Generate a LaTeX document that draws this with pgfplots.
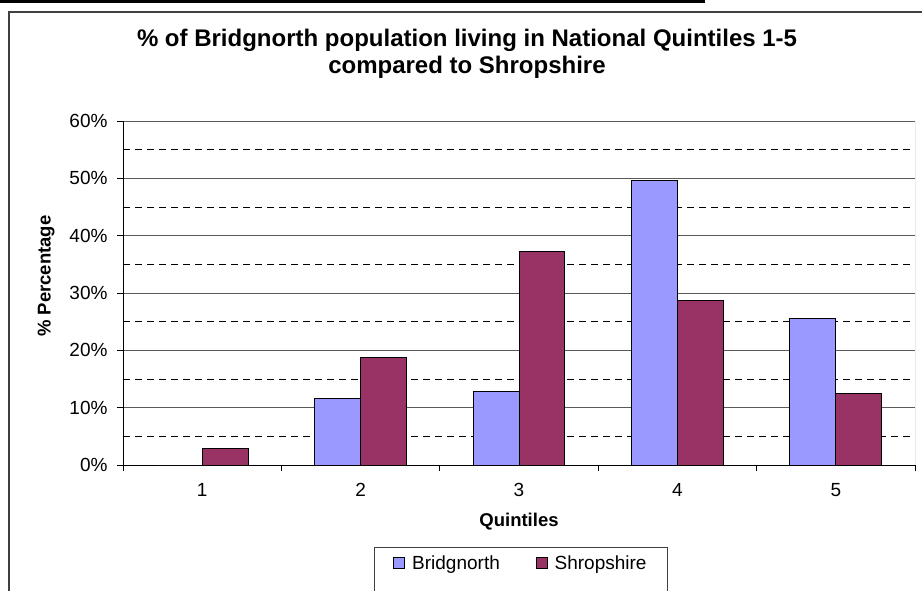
\documentclass[border=0pt]{standalone}
\usepackage{pgfplots}
\pgfplotsset{compat=1.18}
\usepackage{fontspec}
\setmainfont{Liberation Sans}
\definecolor{bridg}{HTML}{9999FF}
\definecolor{shrop}{HTML}{993366}

\begin{document}
\begin{tikzpicture}[x=1pt,y=1pt]
\path[use as bounding box] (0,0) rectangle (922,-590);
\begin{scope}
  \clip (0,0) rectangle (922,-590);
  \draw[line width=3pt] (0,-1) -- (705,-1);
  \draw[draw=black!75, line width=1.2pt] (9,-12) rectangle (960,-640);
\end{scope}
\node[font=\fontsize{24}{27.5}\selectfont\bfseries, align=center] at (467,-54)
  {\% of Bridgnorth population living in National Quintiles 1-5\\compared to Shropshire};
\begin{axis}[
    at={(123pt,-465pt)}, anchor=south west,
    scale only axis, width=792pt, height=344pt,
    xmin=0.5, xmax=5.5, ymin=0, ymax=60,
    ybar=0pt, bar width=0.29,
    axis lines*=left,
    axis line style={black, line width=0.9pt},
    xtick={1,2,3,4,5},
    minor xtick={0.5,1.5,2.5,3.5,4.5,5.5},
    major x tick style={draw=none},
    ytick={0,10,...,60},
    minor ytick={5,15,...,55},
    minor y tick style={draw=none},
    tick align=outside, major tick length=6pt, minor tick length=6pt,
    tick style={black, line width=0.9pt},
    ymajorgrids, yminorgrids,
    major grid style={black!65, line width=0.9pt},
    minor grid style={black, line width=0.7pt, dash pattern=on 7pt off 5pt},
    /pgf/number format/assume math mode=true,
    yticklabel={\pgfmathprintnumber{\tick}\%},
    tick label style={font=\fontsize{19}{22}\selectfont},
    xticklabel style={yshift=-9pt},
    yticklabel style={xshift=-6pt},
    xlabel={Quintiles},
    ylabel={\% Percentage},
    label style={font=\fontsize{18.5}{21}\selectfont\bfseries},
    xlabel style={at={(axis description cs:0.5,-0.166)}, anchor=center},
    ylabel style={at={(axis description cs:-0.097,0.549)}, anchor=center},
    legend columns=2,
    legend style={at={(axis description cs:0.5025,-0.238)}, anchor=north,
      draw=black!75, line width=1pt,
      font=\fontsize{19}{22}\selectfont,
      inner xsep=19pt, inner ysep=6pt,
      nodes={text depth=16pt},
      /tikz/every odd column/.append style={column sep=5pt},
      /tikz/every even column/.append style={column sep=34pt}},
    legend image code/.code={\draw[#1, line width=0.8pt] (0pt,1.5pt) rectangle (11pt,12.5pt);},
  ]
  \addplot[fill=bridg, draw=black, line width=1pt]
    coordinates {(1,0) (2,11.6) (3,12.8) (4,49.6) (5,25.6)};
  \addplot[fill=shrop, draw=black, line width=1pt]
    coordinates {(1,2.8) (2,18.7) (3,37.3) (4,28.7) (5,12.5)};
  \legend{Bridgnorth, Shropshire}
  \draw[black!65, line width=0.9pt] (rel axis cs:1,0) -- (rel axis cs:1,1);
\end{axis}
\end{tikzpicture}
\end{document}
